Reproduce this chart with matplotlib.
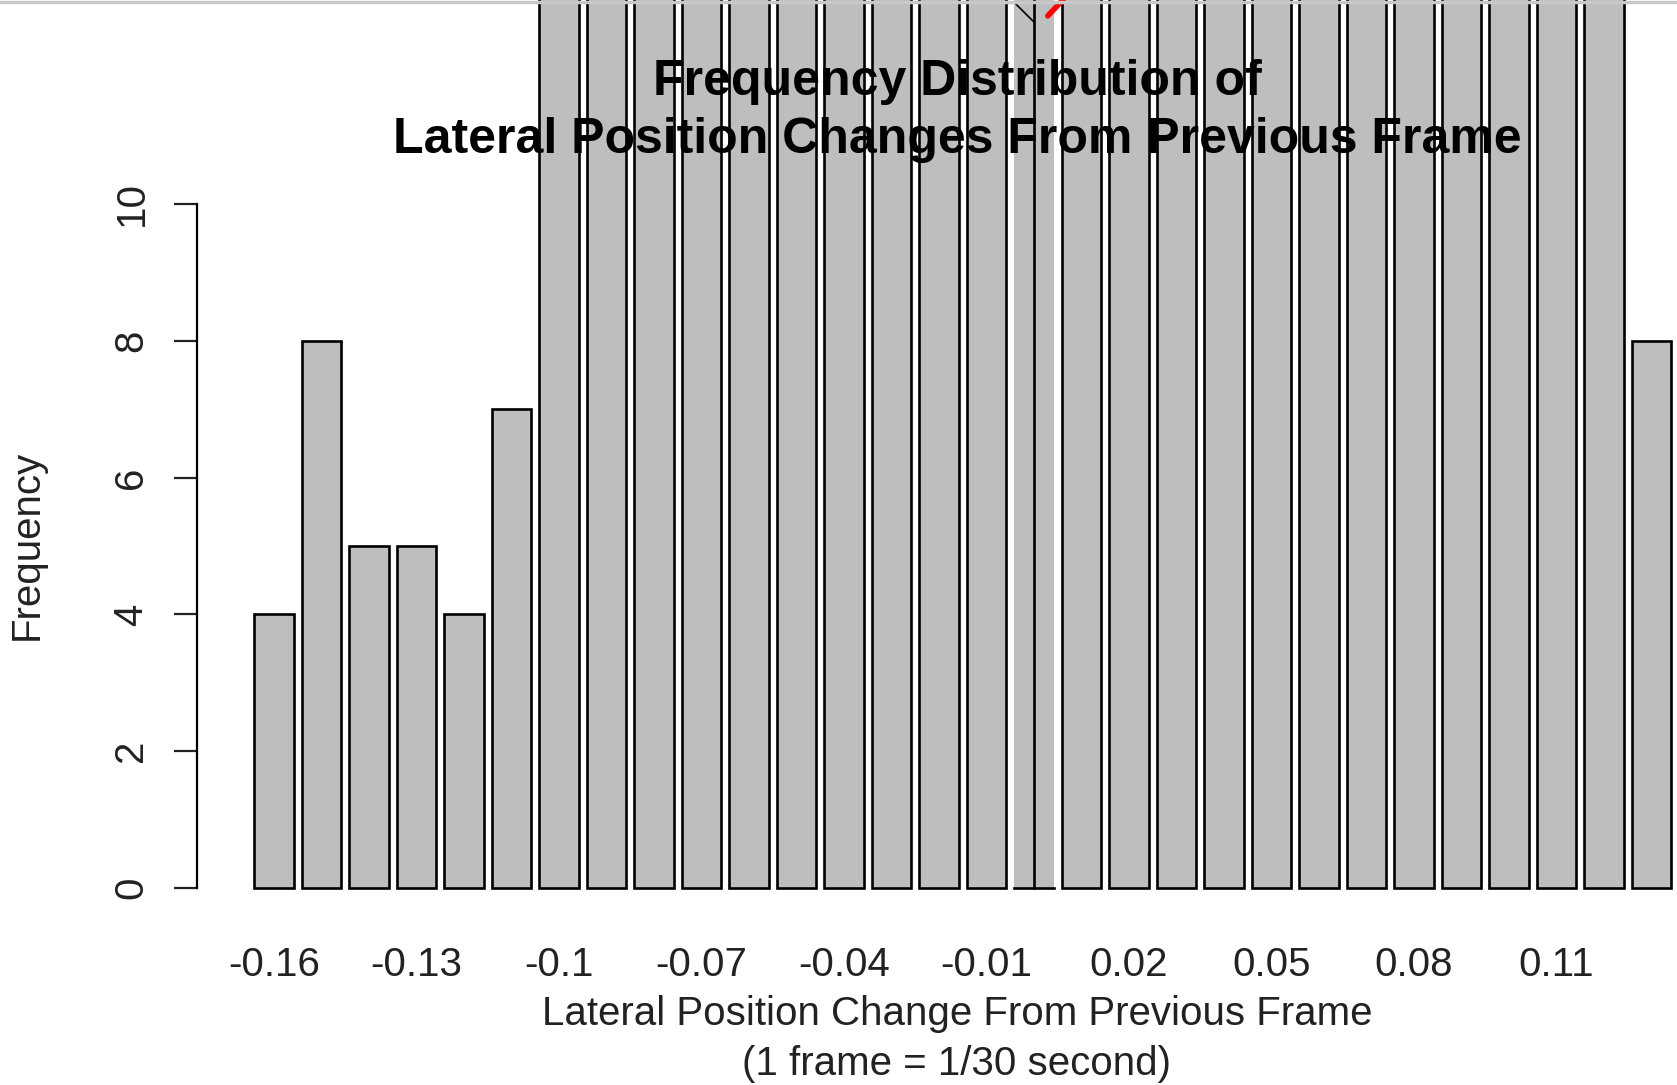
import matplotlib
matplotlib.use("Agg")
import matplotlib.pyplot as plt
from matplotlib.lines import Line2D
import numpy as np

plt.rcParams['font.family'] = ['Liberation Sans', 'DejaVu Sans']

# Bin labels (lateral position change, step 0.01)
bins = ["-0.16", "-0.15", "-0.14", "-0.13", "-0.12", "-0.11", "-0.1", "-0.09",
        "-0.08", "-0.07", "-0.06", "-0.05", "-0.04", "-0.03", "-0.02", "-0.01",
        "0", "0.01", "0.02", "0.03", "0.04", "0.05", "0.06", "0.07", "0.08",
        "0.09", "0.1", "0.11", "0.12", "0.13"]
# Frequencies (bars from -0.1 to 0.12 run off the top of the screenshot; estimated)
freq = [4, 8, 5, 5, 4, 7, 16, 20, 25, 30, 36, 42, 50, 58, 66, 75,
        90, 74, 66, 58, 50, 43, 36, 30, 25, 20, 17, 15, 14, 8]
tick_labels = ["-0.16", "-0.13", "-0.1", "-0.07", "-0.04", "-0.01",
               "0.02", "0.05", "0.08", "0.11"]
yticks = [0, 2, 4, 6, 8, 10]

W, H = 1677, 1085
fig = plt.figure(figsize=(W / 100, H / 100), dpi=100)
ax = fig.add_axes([197 / W, (H - 888) / H, (W - 197) / W, (888 - 204) / H])

pos = np.arange(len(bins))
bar_w = 0.84
zero_idx = bins.index("0")
for i, (p, v) in enumerate(zip(pos, freq)):
    if i == zero_idx:
        ax.bar(p, v, width=bar_w, color="#bebebe", edgecolor="none", clip_on=False, zorder=2)
        ax.plot([p, p], [0, v], color="black", lw=1.9, clip_on=False, zorder=3)
        ax.plot([p - bar_w / 2, p + bar_w / 2], [0, 0], color="black", lw=1.9,
                clip_on=False, zorder=3)
        # small pointer strokes at the top of the screenshot
        ax.plot([p - 0.42, p], [12.95, 12.66], color="black", lw=1.2, clip_on=False, zorder=4)
        ax.plot([p + 0.29, p + 0.63], [12.75, 13.0], color="red", lw=4, clip_on=False,
                zorder=4, solid_capstyle="round")
    else:
        ax.bar(p, v, width=bar_w, color="#bebebe", edgecolor="black", linewidth=1.9,
               clip_on=False, zorder=2)

ax.set_xlim(-77 / 47.5, (W - 274) / 47.5)
ax.set_ylim(0, 10)
for s in ["top", "right", "bottom"]:
    ax.spines[s].set_visible(False)
ax.spines["left"].set_linewidth(1.6)
ax.set_yticks(yticks)
ax.set_yticklabels([str(t) for t in yticks], rotation=90, va="center")
ax.tick_params(axis="y", length=16.5, width=1.6, pad=17, labelsize=29, colors="#222222")

tick_pos = [bins.index(t) for t in tick_labels]
ax.set_xticks(tick_pos)
ax.set_xticklabels(tick_labels)
ax.tick_params(axis="x", length=0, pad=42, labelsize=29, colors="#222222")
ax.patch.set_alpha(0)

fig.text(957 / W, 1 - 1039 / H, "Lateral Position Change From Previous Frame\n(1 frame = 1/30 second)",
         ha="center", va="center", fontsize=29, linespacing=1.42, color="#222222")
fig.text(27 / W, 1 - 545 / H, "Frequency", rotation=90, ha="center", va="center",
         fontsize=29, color="#222222")
fig.text(957 / W, 1 - 111 / H, "Frequency Distribution of\nLateral Position Changes From Previous Frame",
         ha="center", va="center", fontsize=36, fontweight="bold", linespacing=1.33,
         color="black", zorder=10)

fig.add_artist(Line2D([0, 1], [1 - 1.5 / H, 1 - 1.5 / H], transform=fig.transFigure,
                      color="#c8c8c8", lw=2.5))

fig.savefig("out.png", dpi=100)
